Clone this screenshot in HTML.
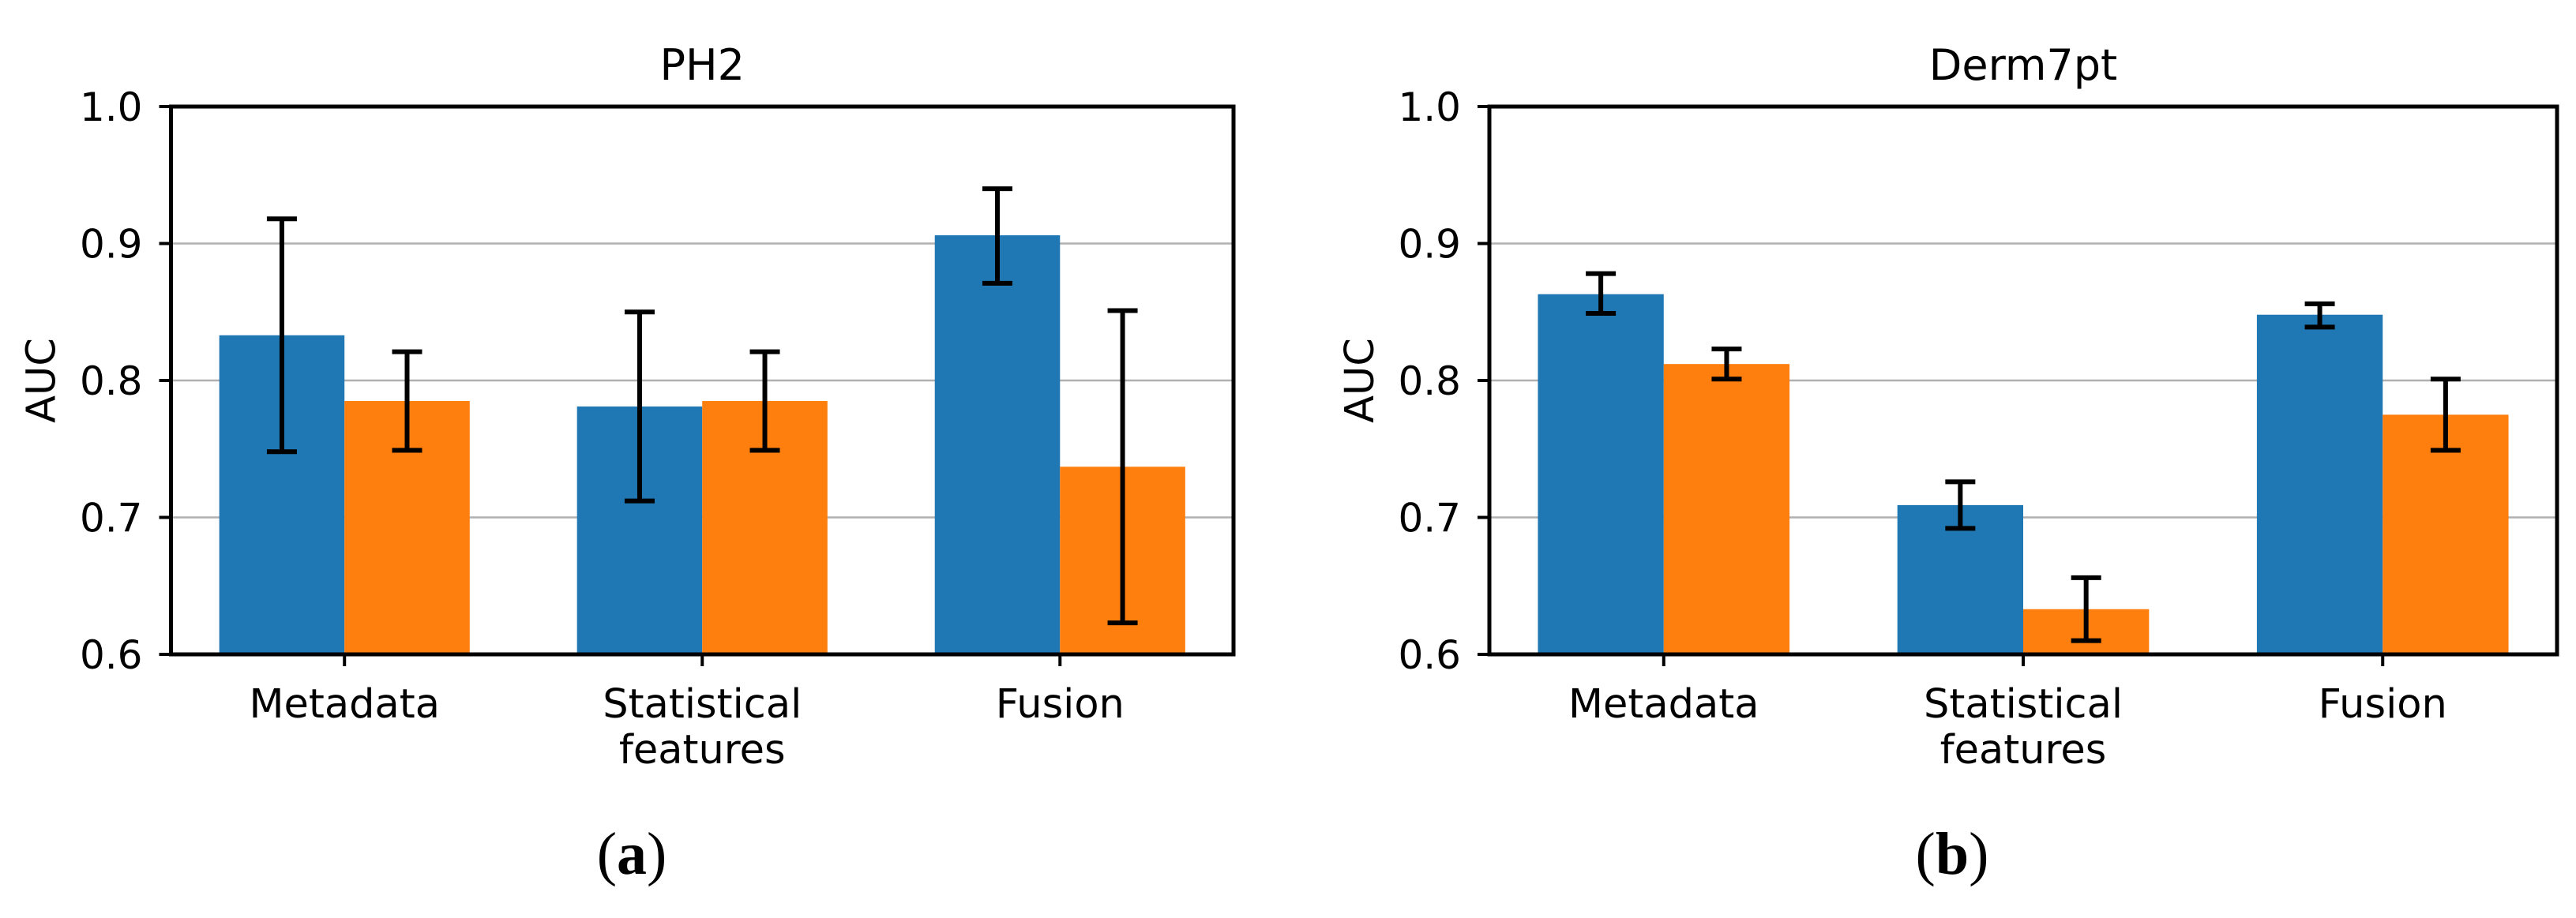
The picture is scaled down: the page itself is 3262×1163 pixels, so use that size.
<!DOCTYPE html>
<html><head><meta charset="utf-8"><style>
html,body{margin:0;padding:0;background:#fff;}
svg text{font-family:"DejaVu Sans","Liberation Sans",sans-serif;}
</style></head><body>
<svg id="fig" width="3262" height="1158" xmlns="http://www.w3.org/2000/svg"></svg>
<script>
const categories = ["Metadata", "Statistical\nfeatures", "Fusion"];
const ph2Blue = [0.833, 0.781, 0.906];
const ph2BlueLo = [0.748, 0.712, 0.871];
const ph2BlueHi = [0.918, 0.850, 0.940];
const ph2Orange = [0.785, 0.785, 0.737];
const ph2OrangeLo = [0.749, 0.749, 0.623];
const ph2OrangeHi = [0.821, 0.821, 0.851];
const dermBlue = [0.863, 0.709, 0.848];
const dermBlueLo = [0.849, 0.692, 0.839];
const dermBlueHi = [0.878, 0.726, 0.856];
const dermOrange = [0.812, 0.633, 0.775];
const dermOrangeLo = [0.801, 0.610, 0.749];
const dermOrangeHi = [0.823, 0.656, 0.801];
const yTicks = [0.6, 0.7, 0.8, 0.9, 1.0];
const yTickLabels = ["0.6", "0.7", "0.8", "0.9", "1.0"];

const NS = "http://www.w3.org/2000/svg";
const svg = document.getElementById("fig");
function mk(tag, attrs, parent) {
  const e = document.createElementNS(NS, tag);
  for (const k in attrs) e.setAttribute(k, attrs[k]);
  (parent || svg).appendChild(e);
  return e;
}

function drawPanel(opts) {
  const L = opts.left, R = opts.right, T = 135, B = 829;
  const xmin = -0.485, xmax = 2.485, ymin = 0.6, ymax = 1.0;
  const sx = v => L + (v - xmin) / (xmax - xmin) * (R - L);
  const sy = v => B - (v - ymin) / (ymax - ymin) * (B - T);
  const g = mk("g", {});
  
  
  yTicks.forEach((t, i) => {
    if (t > ymin && t < ymax) {
      const gl = mk("line", {x1: L, x2: R, y1: sy(t), y2: sy(t), stroke: "#b0b0b0", "stroke-width": 2.5}, g);
      
      
    }
  });
  const w = 0.35;
  const series = [
    {v: opts.blue, lo: opts.blueLo, hi: opts.blueHi, c: "#1f77b4", off: -w/2, n: "blue"},
    {v: opts.orange, lo: opts.orangeLo, hi: opts.orangeHi, c: "#ff7f0e", off: w/2, n: "orange"}
  ];
  series.forEach(s => {
    s.v.forEach((val, i) => {
      const x0 = sx(i + s.off - w/2), x1 = sx(i + s.off + w/2);
      const r = mk("rect", {x: x0, y: sy(val), width: x1 - x0, height: sy(ymin) - sy(val), fill: s.c}, g);
      
      
    });
  });
  series.forEach(s => {
    s.v.forEach((val, i) => {
      const cx = sx(i + s.off);
      const eg = mk("g", {stroke: "#000", "stroke-width": 6}, g);
      
      
      mk("line", {x1: cx, x2: cx, y1: sy(s.lo[i]), y2: sy(s.hi[i])}, eg);
      mk("line", {x1: cx - 19, x2: cx + 19, y1: sy(s.lo[i]), y2: sy(s.lo[i])}, eg);
      mk("line", {x1: cx - 19, x2: cx + 19, y1: sy(s.hi[i]), y2: sy(s.hi[i])}, eg);
    });
  });
  const fr = mk("rect", {x: L, y: T, width: R - L, height: B - T, fill: "none", stroke: "#000", "stroke-width": 5}, g);
  
  
  yTicks.forEach((t, i) => {
    mk("line", {x1: L - 15, x2: L, y1: sy(t), y2: sy(t), stroke: "#000", "stroke-width": 4}, g);
    const tx = mk("text", {x: L - 36, y: sy(t) + 18, "text-anchor": "end", "font-size": 50}, g);
    tx.textContent = yTickLabels[i];
    
    
  });
  categories.forEach((c, i) => {
    mk("line", {x1: sx(i), x2: sx(i), y1: B, y2: B + 15, stroke: "#000", "stroke-width": 4}, g);
    c.split("\n").forEach((ln, j) => {
      const tx = mk("text", {x: sx(i), y: 909 + j * 58, "text-anchor": "middle", "font-size": 51}, g);
      tx.textContent = ln;
      
      
    });
  });
  const ttl = mk("text", {x: (L + R) / 2, y: 101, "text-anchor": "middle", "font-size": 54}, g);
  ttl.textContent = opts.title;
  
  
  const yl = mk("text", {x: 0, y: 0, "text-anchor": "middle", "font-size": 51, transform: "translate(" + (L - 147) + ",482) rotate(-90)"}, g);
  yl.textContent = "AUC";
  
  
  const cap = mk("text", {x: opts.capX, y: 1107, "text-anchor": "middle", "font-size": 76, style: "font-family:'Liberation Serif',serif"}, g);
  
  
  const t1 = mk("tspan", {}, cap); t1.textContent = "(";
  const t2 = mk("tspan", {"font-weight": "bold"}, cap); t2.textContent = opts.caption;
  const t3 = mk("tspan", {}, cap); t3.textContent = ")";
}

drawPanel({name: "ph2-chart", left: 216.5, right: 1562, title: "PH2", caption: "a", capX: 800,
  blue: ph2Blue, blueLo: ph2BlueLo, blueHi: ph2BlueHi, orange: ph2Orange, orangeLo: ph2OrangeLo, orangeHi: ph2OrangeHi});
drawPanel({name: "derm7pt-chart", left: 1886, right: 3238, title: "Derm7pt", caption: "b", capX: 2472,
  blue: dermBlue, blueLo: dermBlueLo, blueHi: dermBlueHi, orange: dermOrange, orangeLo: dermOrangeLo, orangeHi: dermOrangeHi});
</script>
</body></html>
